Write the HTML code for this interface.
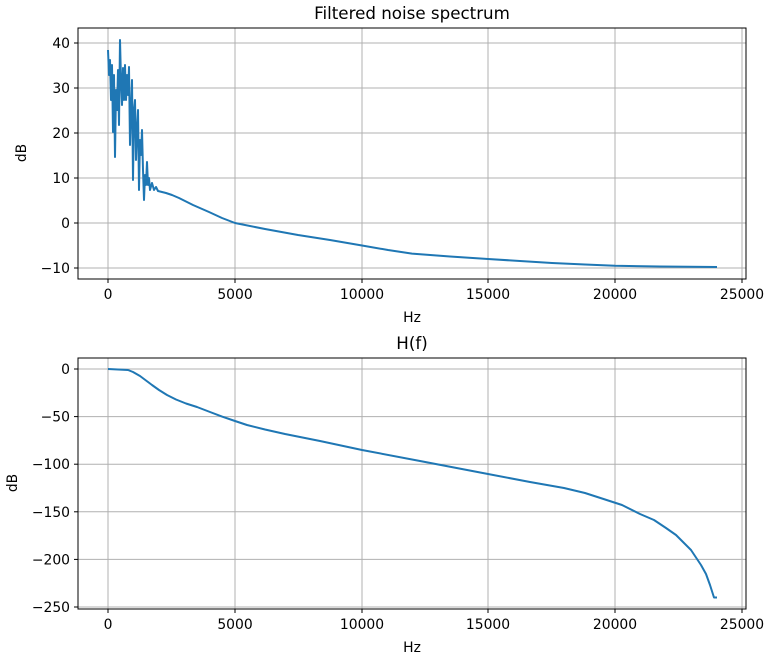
<!DOCTYPE html>
<html><head><style>body{margin:0;background:#fff}svg{display:block}text{font-family:"DejaVu Sans","Liberation Sans",sans-serif;font-size:13.9px;fill:#000}</style></head>
<body>
<svg width="770" height="660" xmlns="http://www.w3.org/2000/svg">
<rect width="770" height="660" fill="#fff"/>
<g stroke="#b0b0b0" stroke-width="1">
<line x1="108" y1="28" x2="108" y2="279"/><line x1="235" y1="28" x2="235" y2="279"/><line x1="362" y1="28" x2="362" y2="279"/><line x1="488" y1="28" x2="488" y2="279"/><line x1="615" y1="28" x2="615" y2="279"/><line x1="742" y1="28" x2="742" y2="279"/>
<line x1="78" y1="43" x2="746" y2="43"/><line x1="78" y1="88" x2="746" y2="88"/><line x1="78" y1="133" x2="746" y2="133"/><line x1="78" y1="178" x2="746" y2="178"/><line x1="78" y1="223" x2="746" y2="223"/><line x1="78" y1="268" x2="746" y2="268"/>
<line x1="108" y1="358" x2="108" y2="609"/><line x1="235" y1="358" x2="235" y2="609"/><line x1="362" y1="358" x2="362" y2="609"/><line x1="488" y1="358" x2="488" y2="609"/><line x1="615" y1="358" x2="615" y2="609"/><line x1="742" y1="358" x2="742" y2="609"/>
<line x1="78" y1="369" x2="746" y2="369"/><line x1="78" y1="416.6" x2="746" y2="416.6"/><line x1="78" y1="464.2" x2="746" y2="464.2"/><line x1="78" y1="511.8" x2="746" y2="511.8"/><line x1="78" y1="559.4" x2="746" y2="559.4"/><line x1="78" y1="607" x2="746" y2="607"/>
</g>
<polyline fill="none" stroke="#1f77b4" stroke-width="2" stroke-linejoin="round" points="108,50 109,75 110,60 111,100 112,65 113,132 114,75 115,157 116,90 117,110 118,70 119,125 120,40 121,80 122,105 123,68 124,100 125,65 126,100 127,75 128,95 129,67 130,145 131,110 132,80 133,180 134,110 135,100 136,160 137,130 138,110 139,190 140,140 141,155 142,130 143,170 144,200 145,175 146,185 147,162 148,185 149,178 150,190 152,183 154,190 156,187 158,191 162,192 166,193 172,195 179,198 193,205 209,212 222,218 235,223 265,229 298,235 330,240 362,245.5 388,250 412,253.6 450,256.5 488,259 520,261 552,263 585,264.5 615,265.8 660,266.5 717,267"/>
<polyline fill="none" stroke="#1f77b4" stroke-width="2" stroke-linejoin="round" points="108,369 128,370 133,372 140,376 146,380.5 152,385 159,390 167,395 176,399.5 186,403.5 197,407 210,412 222,416.6 235,421 247,425 265,429.5 285,434 320,441 362,450 420,461 488,474 530,482 564,488 585,493 602,498.5 622,505 640,514 654,520 666,528 676,535 684,543 691,550 696,557.5 701,565 706,574 710,585 714,597.5 717,597.5"/>
<rect x="78" y="28" width="668" height="251" fill="none" stroke="#000" stroke-width="1"/>
<rect x="78" y="358" width="668" height="251" fill="none" stroke="#000" stroke-width="1"/>
<g stroke="#000">
<line x1="108" y1="279" x2="108" y2="283"/><line x1="235" y1="279" x2="235" y2="283"/><line x1="362" y1="279" x2="362" y2="283"/><line x1="488" y1="279" x2="488" y2="283"/><line x1="615" y1="279" x2="615" y2="283"/><line x1="742" y1="279" x2="742" y2="283"/>
<line x1="74" y1="43" x2="78" y2="43"/><line x1="74" y1="88" x2="78" y2="88"/><line x1="74" y1="133" x2="78" y2="133"/><line x1="74" y1="178" x2="78" y2="178"/><line x1="74" y1="223" x2="78" y2="223"/><line x1="74" y1="268" x2="78" y2="268"/>
<line x1="108" y1="609" x2="108" y2="613"/><line x1="235" y1="609" x2="235" y2="613"/><line x1="362" y1="609" x2="362" y2="613"/><line x1="488" y1="609" x2="488" y2="613"/><line x1="615" y1="609" x2="615" y2="613"/><line x1="742" y1="609" x2="742" y2="613"/>
<line x1="74" y1="369" x2="78" y2="369"/><line x1="74" y1="416.6" x2="78" y2="416.6"/><line x1="74" y1="464.2" x2="78" y2="464.2"/><line x1="74" y1="511.8" x2="78" y2="511.8"/><line x1="74" y1="559.4" x2="78" y2="559.4"/><line x1="74" y1="607" x2="78" y2="607"/>
</g>
<g text-anchor="middle">
<text x="108" y="299">0</text><text x="235" y="299">5000</text><text x="362" y="299">10000</text><text x="488" y="299">15000</text><text x="615" y="299">20000</text><text x="742" y="299">25000</text>
<text x="108" y="629">0</text><text x="235" y="629">5000</text><text x="362" y="629">10000</text><text x="488" y="629">15000</text><text x="615" y="629">20000</text><text x="742" y="629">25000</text>
<text x="412" y="322">Hz</text><text x="412" y="652">Hz</text>
<text x="412" y="19" style="font-size:16.7px">Filtered noise spectrum</text>
<text x="412" y="349" style="font-size:16.7px">H(f)</text>
<text transform="translate(26,153) rotate(-90)">dB</text>
<text transform="translate(17,483) rotate(-90)">dB</text>
</g>
<g text-anchor="end">
<text x="70" y="48">40</text><text x="70" y="93">30</text><text x="70" y="138">20</text><text x="70" y="183">10</text><text x="70" y="228">0</text><text x="70" y="273">−10</text>
<text x="70" y="374">0</text><text x="70" y="421.6">−50</text><text x="70" y="469.2">−100</text><text x="70" y="516.8">−150</text><text x="70" y="564.4">−200</text><text x="70" y="612">−250</text>
</g>
</svg>
</body></html>
